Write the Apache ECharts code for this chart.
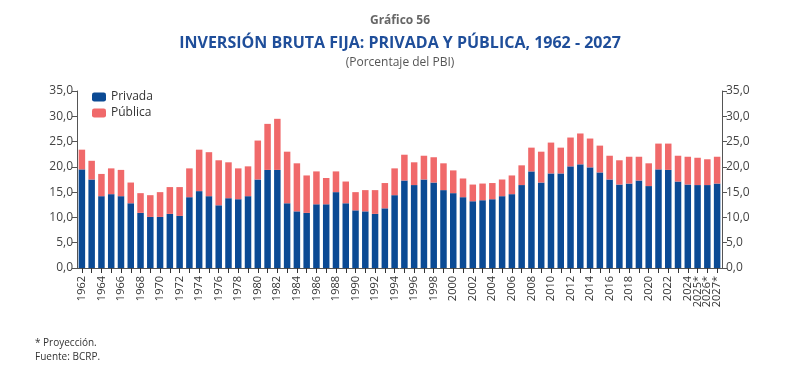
<!DOCTYPE html>
<html><head><meta charset="utf-8">
<script src="https://cdn.jsdelivr.net/npm/echarts@6/dist/echarts.min.js"></script>
<style>html,body{margin:0;padding:0;background:#fff}#c{width:800px;height:373px}</style>
</head><body><div id="c"></div>
<script>
var years = [];
for (var y = 1962; y <= 2027; y++) years.push(y >= 2025 ? y + '*' : String(y));
var totals = [23.4,21.2,18.6,19.7,19.4,16.9,14.8,14.4,15.0,16.0,16.0,19.7,23.4,22.9,21.3,20.9,19.7,20.1,
  25.2,28.5,29.5,23.0,20.7,18.3,19.1,17.8,19.1,17.1,15.0,15.4,15.4,16.8,19.7,22.4,20.9,
  22.2,21.9,20.7,19.3,17.7,16.5,16.7,16.8,17.5,18.3,20.3,23.8,23.0,24.8,23.8,25.8,26.6,25.6,
  24.2,22.2,21.3,22.0,22.0,20.7,24.6,24.6,22.2,22.0,21.8,21.5,22.0];
var privada = [19.5,17.5,14.2,14.6,14.2,12.8,10.9,10.1,10.1,10.7,10.3,14.0,15.2,14.2,12.4,13.8,13.6,14.2,
  17.5,19.4,19.4,12.8,11.2,10.9,12.6,12.6,15.0,12.8,11.4,11.2,10.7,11.8,14.4,17.3,16.4,
  17.5,16.9,15.4,14.8,14.0,13.2,13.4,13.6,14.2,14.6,16.4,19.1,16.9,18.7,18.7,20.1,20.5,19.9,
  18.9,17.5,16.5,16.7,17.3,16.2,19.5,19.4,17.1,16.5,16.4,16.4,16.7];
var publica = totals.map(function(t, i){ return Math.round((t - privada[i]) * 10) / 10; });
var yTicks = [0,5,10,15,20,25,30,35];

var fmt = function(v){ return v.toFixed(1).replace('.', ','); };
var axisCol = '#555';
var ch = echarts.init(document.getElementById('c'));
var yAx = function(pos){ return {
  type:'value', position:pos, min:0, max:35, interval:5,
  axisLine:{show:true, lineStyle:{color:axisCol, width:1}},
  axisTick:{show:true, length:5, lineStyle:{color:axisCol}},
  splitLine:{show:false},
  axisLabel:{formatter:fmt, color:'#444', fontSize:12, fontFamily:'Open Sans', margin:4}
};};
var lbl = function(fn){ return {rotate:90, fontSize:11, color:'#333', fontFamily:'Open Sans', margin:8,
  showMinLabel:true, showMaxLabel:true, interval:fn}; };
ch.setOption({
  animation:false,
  title:[
    {text:'Gráfico 56', left:'center', top:10, textStyle:{fontSize:12, fontWeight:'bold', color:'#666', fontFamily:'Open Sans'}},
    {text:'INVERSIÓN BRUTA FIJA: PRIVADA Y PÚBLICA, 1962 - 2027', left:'center', top:30, textStyle:{fontSize:16, fontWeight:'bold', color:'#1F4E9A', fontFamily:'Open Sans'}},
    {text:'(Porcentaje del PBI)', left:'center', top:52, textStyle:{fontSize:12, fontWeight:'normal', color:'#555', fontFamily:'Open Sans'}},
    {text:'* Proyección.\nFuente: BCRP.', left:30, top:331, textStyle:{fontSize:10, fontWeight:'normal', color:'#333', lineHeight:14, fontFamily:'Open Sans'}}
  ],
  legend:{orient:'vertical', left:87, top:86, itemWidth:14, itemHeight:9, itemGap:4,
    textStyle:{fontSize:12, color:'#333', fontFamily:'Open Sans'},
    data:['Privada','Pública']},
  grid:{left:77, right:78, top:91, bottom:105, containLabel:false},
  xAxis:[
    {type:'category', data:years, position:'bottom',
      axisLine:{lineStyle:{color:axisCol}},
      axisTick:{show:true, interval:0, alignWithLabel:true, length:5, lineStyle:{color:'#333'}},
      axisLabel:lbl(function(i){ return (i % 2 === 0 && i < 62) || i === 63 || i === 65; })},
    {type:'category', data:years, position:'bottom', offset:0,
      axisLine:{show:false}, axisTick:{show:false},
      axisLabel:lbl(function(i){ return i === 62 || i === 64; })}
  ],
  yAxis:[yAx('left'), yAx('right')],
  series:[
    {name:'Privada', type:'bar', stack:'t', data:privada, barWidth:6.5, itemStyle:{color:'#0B4A94'}},
    {name:'Pública', type:'bar', stack:'t', data:publica, barWidth:6.5, itemStyle:{color:'#F0696A'}}
  ]
});
</script></body></html>
